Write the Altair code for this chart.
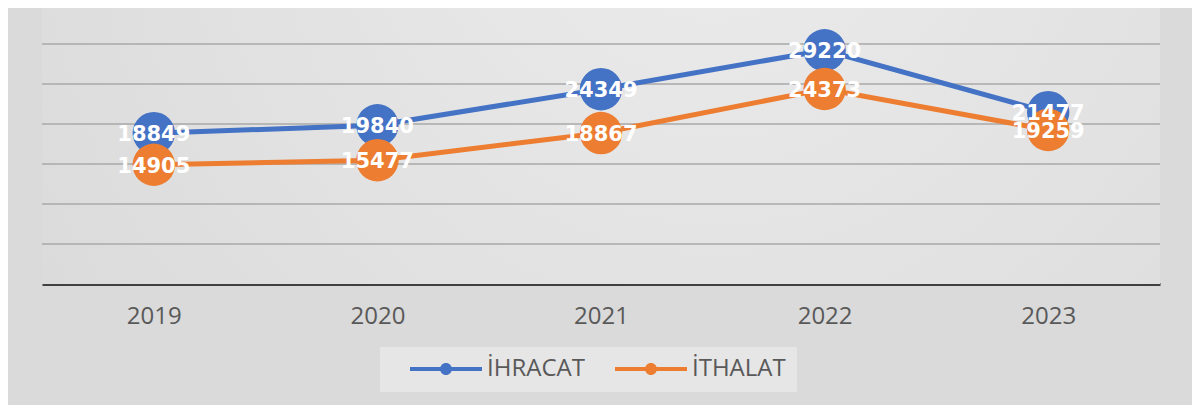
import altair as alt
import pandas as pd

years = ["2019", "2020", "2021", "2022", "2023"]
ihracat = [18849, 19840, 24349, 29220, 21477]
ithalat = [14905, 15477, 18867, 24373, 19259]
series_names = ["İHRACAT", "İTHALAT"]
series_colors = ["#4472C4", "#ED7D31"]
grid_values = [5000, 10000, 15000, 20000, 25000, 30000]

rows = []
for s, vals in zip(series_names, [ihracat, ithalat]):
    for y, v in zip(years, vals):
        rows.append({"year": y, "series": s, "value": v})
df = pd.DataFrame(rows)
grid_df = pd.DataFrame({"value": grid_values})

x_enc = alt.X(
    "year:N",
    sort=years,
    scale=alt.Scale(type="point", padding=0.5),
    axis=alt.Axis(
        title=None, labelAngle=0, ticks=False, grid=False,
        labelFont="Open Sans", labelFontSize=24, labelColor="#595959",
        labelPadding=20, domainColor="#404040", domainWidth=3,
    ),
)
y_scale = alt.Scale(domain=[0, 34500], nice=False, zero=True)
y_enc = alt.Y("value:Q", scale=y_scale, axis=None)
color_scale = alt.Scale(domain=series_names, range=series_colors)

legend_symbol = (
    "M-3,-0.17L3,-0.17L3,0.17L-3,0.17Z "
    "M0.5,0A0.5,0.5 0 1,1 -0.5,0A0.5,0.5 0 1,1 0.5,0Z"
)
legend_def = alt.Legend(
    title=None, orient="none", legendX=338, legendY=339,
    direction="horizontal", symbolType=legend_symbol,
    symbolSize=576, symbolStrokeWidth=0, symbolOffset=44,
    labelFont="Open Sans", labelFontSize=24, labelColor="#595959",
    labelOffset=29, columnPadding=10, padding=10,
    fillColor="#e6e6e6", strokeColor="#e6e6e6",
)

view_fill = alt.RadialGradient(
    gradient="radial",
    x1=0.6, y1=0.25, x2=0.6, y2=0.25, r1=0, r2=0.75,
    stops=[
        alt.GradientStop(offset=0, color="#ececec"),
        alt.GradientStop(offset=1, color="#dadada"),
    ],
)

backdrop = alt.Chart(pd.DataFrame({"k": [0]})).mark_rect(
    color=view_fill
).encode(
    x=alt.value(0), x2=alt.value("width"),
    y=alt.value(0), y2=alt.value("height"),
)

gridlines = alt.Chart(grid_df).mark_rule(
    color="#a8a8a8", strokeWidth=1.5
).encode(
    y=alt.Y("value:Q", scale=y_scale, axis=None),
    x=alt.value(0), x2=alt.value("width"),
)

base = alt.Chart(df)

points = base.mark_circle(size=1800, opacity=1).encode(
    x=x_enc, y=y_enc,
    color=alt.Color("series:N", scale=color_scale, legend=legend_def),
    order=alt.Order("series:N"),
)

lines = base.mark_line(strokeWidth=5, strokeCap="round").encode(
    x=x_enc, y=y_enc,
    color=alt.Color("series:N", scale=color_scale, legend=legend_def),
)

labels = base.mark_text(
    font="DejaVu Sans", fontSize=21, fontWeight="bold", color="white",
    baseline="middle", align="center", dy=2,
).encode(x=x_enc, y=y_enc, text=alt.Text("value:Q", format="d"))

chart = (
    alt.layer(backdrop, gridlines, lines, points, labels)
    .properties(
        width=1118, height=276,
        autosize=alt.AutoSizeParams(type="none"),
        padding={"left": 34, "top": 0, "right": 32, "bottom": 121},
        background="#dadada",
    )
    .configure_view(stroke=None)
)

chart.save("out.html", embed_options={"renderer": "svg", "actions": False})
